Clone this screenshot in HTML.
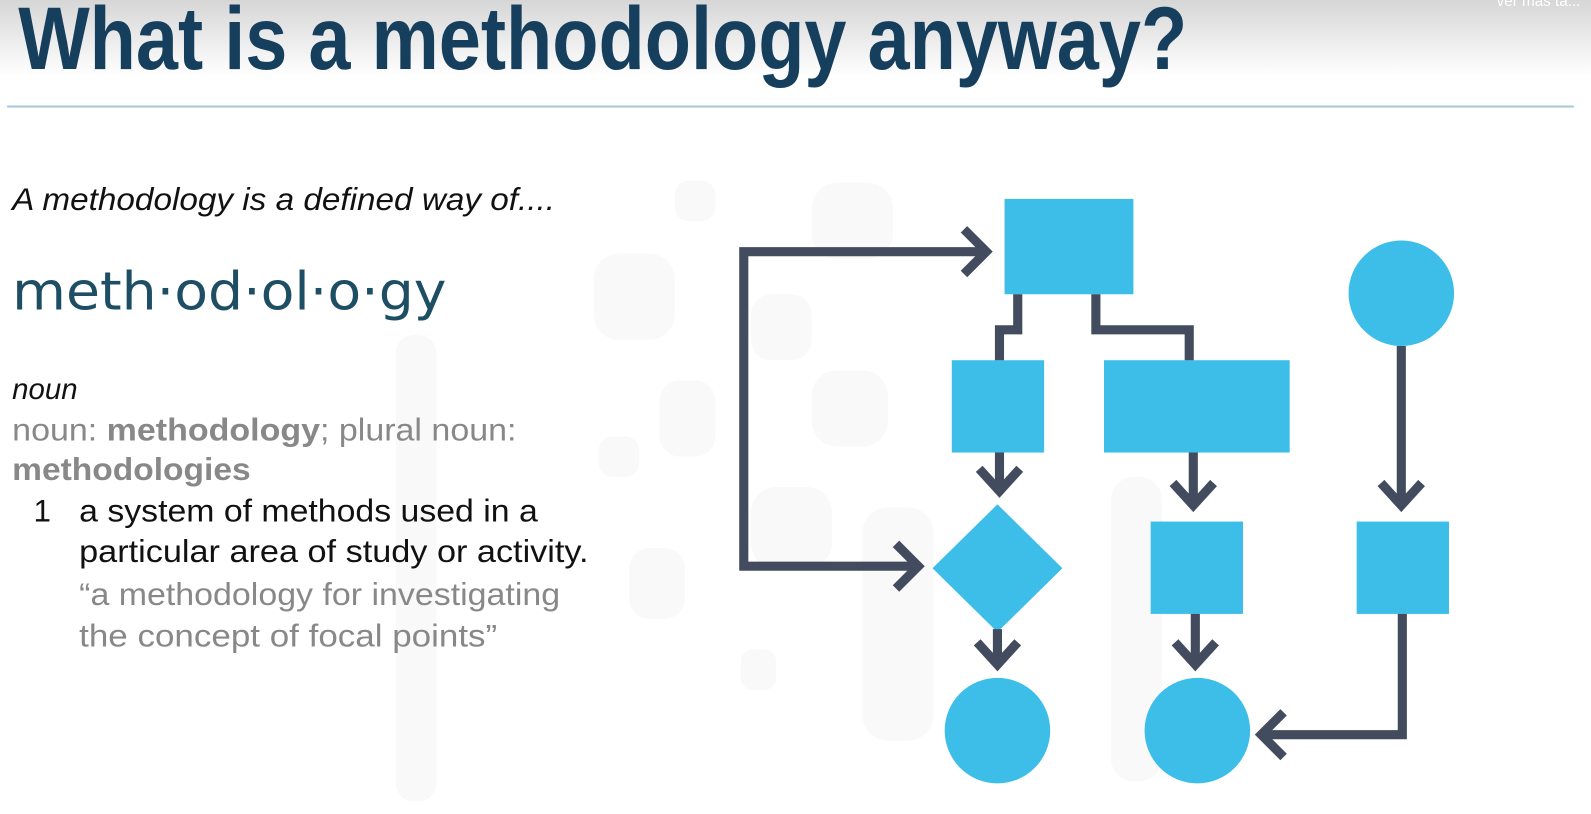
<!DOCTYPE html>
<html><head><meta charset="utf-8"><style>
html,body{margin:0;padding:0;width:1591px;height:814px;overflow:hidden;background:#fff}
</style></head><body>
<svg width="1591" height="814" viewBox="0 0 1591 814" xmlns="http://www.w3.org/2000/svg" style="position:absolute;left:0;top:0">
<defs><linearGradient id="tg" x1="0" y1="0" x2="0" y2="1">
<stop offset="0" stop-color="#d6d6d6"/><stop offset="1" stop-color="#ffffff"/></linearGradient></defs>
<g transform="scale(1.0147)">
<rect x="0" y="0" width="1591" height="75" fill="url(#tg)"/>
<text x="1475" y="6" font-family="Liberation Sans, sans-serif" font-size="15" fill="#fff">ver más ta...</text>
<!-- watermark -->
<g fill="#f9f9fa">
<rect x="665" y="178" width="40" height="40" rx="14"/>
<rect x="800" y="180" width="80" height="75" rx="25"/>
<rect x="585" y="250" width="80" height="85" rx="25"/>
<rect x="740" y="290" width="60" height="65" rx="20"/>
<rect x="800" y="365" width="75" height="75" rx="25"/>
<rect x="650" y="375" width="55" height="75" rx="20"/>
<rect x="590" y="430" width="40" height="40" rx="14"/>
<rect x="740" y="480" width="80" height="80" rx="25"/>
<rect x="620" y="540" width="55" height="70" rx="20"/>
<rect x="730" y="640" width="35" height="40" rx="12"/>
<rect x="390" y="330" width="40" height="460" rx="18"/>
<rect x="850" y="500" width="70" height="230" rx="25"/>
<rect x="1095" y="470" width="50" height="300" rx="22"/>
</g>
<text x="18" y="68" font-family="Liberation Sans, sans-serif" font-weight="bold" font-size="88" fill="#163f5e" textLength="1152" lengthAdjust="spacingAndGlyphs">What is a methodology anyway?</text>
<rect x="7" y="104" width="1544" height="2" fill="#a8c8d6"/>
<g font-family="Liberation Sans, sans-serif">
<text x="12" y="207" font-size="31" font-style="italic" fill="#111" textLength="535" lengthAdjust="spacingAndGlyphs">A methodology is a defined way of....</text>
<text x="12" y="305" font-size="52" fill="#1e4e63" font-family="DejaVu Sans, sans-serif" textLength="428" lengthAdjust="spacingAndGlyphs">meth·od·ol·o·gy</text>
<text x="12" y="393" font-size="29" font-style="italic" fill="#111">noun</text>
<text x="12" y="434" font-size="31" fill="#888" textLength="497" lengthAdjust="spacingAndGlyphs"><tspan>noun: </tspan><tspan font-weight="bold">methodology</tspan><tspan>; plural noun:</tspan></text>
<text x="12" y="473" font-size="31" fill="#888" font-weight="bold" textLength="235" lengthAdjust="spacingAndGlyphs">methodologies</text>
<text x="33" y="514" font-size="31" fill="#111">1</text>
<text x="78" y="514" font-size="31" fill="#111" textLength="452" lengthAdjust="spacingAndGlyphs">a system of methods used in a</text>
<text x="78" y="554" font-size="31" fill="#111" textLength="502" lengthAdjust="spacingAndGlyphs">particular area of study or activity.</text>
<text x="78" y="596" font-size="31" fill="#888" textLength="474" lengthAdjust="spacingAndGlyphs">“a methodology for investigating</text>
<text x="78" y="637" font-size="31" fill="#888" textLength="412" lengthAdjust="spacingAndGlyphs">the concept of focal points”</text>
</g>
<!-- flowchart -->
<g fill="#3dbee8">
<rect x="990" y="196" width="127" height="94"/>
<rect x="938" y="355" width="91" height="91"/>
<rect x="1088" y="355" width="183" height="91"/>
<circle cx="1381" cy="289" r="52"/>
<polygon points="983,497 1047,560 983,623 919,560"/>
<rect x="1134" y="514" width="91" height="91"/>
<rect x="1337" y="514" width="91" height="91"/>
<circle cx="983" cy="720" r="52"/>
<circle cx="1180" cy="720" r="52"/>
</g>
<g fill="none" stroke="#434c5e" stroke-width="9">
<polyline points="970,248 733,248 733,558 903,558"/>
<polyline points="950,226 972,248 950,270"/>
<polyline points="883,536 905,558 883,580"/>
<polyline points="1003,290 1003,325 985,325 985,355"/>
<polyline points="1080,290 1080,325 1172,325 1172,355"/>
<line x1="985" y1="446" x2="985" y2="484"/>
<polyline points="965,462 985,484 1005,462"/>
<line x1="1176" y1="446" x2="1176" y2="498"/>
<polyline points="1156,476 1176,498 1196,476"/>
<line x1="1381" y1="341" x2="1381" y2="498"/>
<polyline points="1361,476 1381,498 1401,476"/>
<line x1="983" y1="620" x2="983" y2="655"/>
<polyline points="963,633 983,655 1003,633"/>
<line x1="1178" y1="605" x2="1178" y2="655"/>
<polyline points="1158,633 1178,655 1198,633"/>
<polyline points="1382,605 1382,724 1245,724"/>
<polyline points="1265,702 1243,724 1265,746"/>
</g>
</g>
</svg>
</body></html>
